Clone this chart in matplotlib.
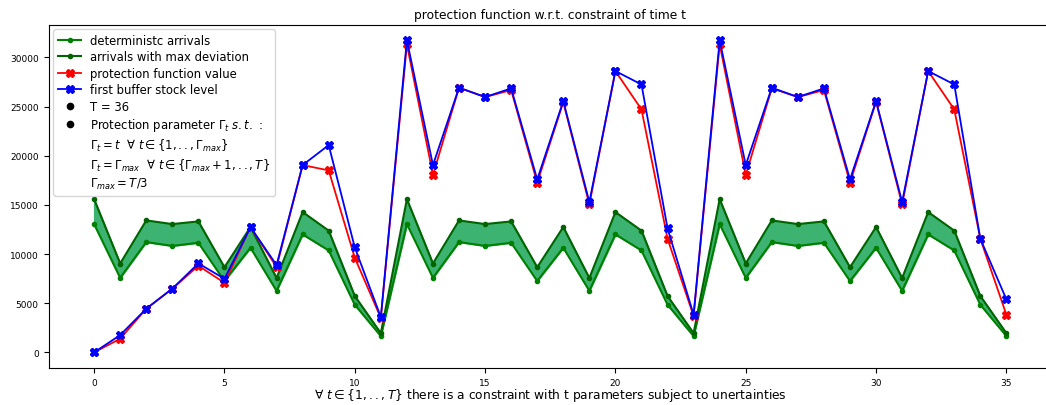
import matplotlib
matplotlib.use("Agg")
import matplotlib.pyplot as plt
from matplotlib.lines import Line2D

# ===================== data =====================
t = list(range(36))

# deterministic arrivals per period
arrivals_det = [13050, 7580, 11220, 10830, 11150, 7260, 10640, 6260, 12000, 10370, 4850, 1660,
                13050, 7580, 11220, 10830, 11150, 7260, 10640, 6260, 12000, 10370, 4850, 1660,
                13050, 7580, 11220, 10830, 11150, 7260, 10640, 6260, 12000, 10370, 4850, 1660]

# arrivals when every uncertain parameter deviates to its max
arrivals_max = [15580, 9040, 13420, 13050, 13320, 8660, 12750, 7560, 14270, 12380, 5730, 1950,
                15580, 9040, 13420, 13050, 13320, 8660, 12750, 7560, 14270, 12380, 5730, 1950,
                15580, 9040, 13420, 13050, 13320, 8660, 12750, 7560, 14270, 12380, 5730, 1950]

protection = [0, 1390, 4440, 6480, 8810, 7080, 12740, 8680, 19050, 18510, 9630, 3500,
              31320, 18050, 26920, 25970, 26680, 17250, 25450, 15050, 28610, 24710, 11560, 3700,
              31320, 18050, 26850, 25970, 26680, 17250, 25490, 15050, 28610, 24710, 11560, 3830]

stock_level = [0, 1760, 4440, 6480, 9050, 7490, 12740, 8880, 19050, 21080, 10680, 3590,
               31760, 19050, 26920, 25970, 26850, 17590, 25560, 15290, 28610, 27250, 12610, 3830,
               31760, 19050, 26920, 25970, 26850, 17590, 25560, 15290, 28610, 27250, 11560, 5390]

T = 36

# ===================== plot =====================
fig = plt.figure(figsize=(10.46, 4.06), dpi=100)
ax = fig.add_axes([48.5 / 1046, 37 / 406, (1052 - 48.5) / 1046, (369 - 25.5) / 406])

ax.fill_between(t, arrivals_det, arrivals_max, color="mediumseagreen")
ax.plot(t, arrivals_det, marker=".", color="green", lw=1.5, ms=6, label="deterministc arrivals")
ax.plot(t, arrivals_max, marker=".", color="darkgreen", lw=1.5, ms=6, label="arrivals with max deviation")
ax.plot(t, protection, marker="X", color="red", lw=1.3, ms=6, label="protection function value")
ax.plot(t, stock_level, marker="X", color="blue", lw=1.3, ms=6, label="first buffer stock level")

handles, labels = ax.get_legend_handles_labels()
dot = Line2D([], [], marker="o", color="black", ls="none", ms=4.5)
blank = Line2D([], [], ls="none")
handles += [dot, dot, blank, blank, blank]
labels += [
    "T = %d" % T,
    r"Protection parameter $\Gamma_t$ $s.t.$ :",
    r"$\Gamma_t = t$  $\forall$ $t \in \{1,..,\Gamma_{max}\}$",
    r"$\Gamma_t = \Gamma_{max}$  $\forall$ $t \in \{\Gamma_{max}+1,..,T\}$",
    r"$\Gamma_{max} = T/3$",
]
ax.legend(handles, labels, loc="upper left", fontsize=8.4, borderaxespad=0.4, labelspacing=0.3)

ax.set_title("protection function w.r.t. constraint of time t", fontsize=8.8, pad=5)
ax.set_xlabel(r"$\forall$ $t \in \{1,..,T\}$ there is a constraint with t parameters subject to unertainties",
              fontsize=8.8, labelpad=-0.5)
ax.tick_params(labelsize=6.5)

plt.savefig("out.png", dpi=100)
